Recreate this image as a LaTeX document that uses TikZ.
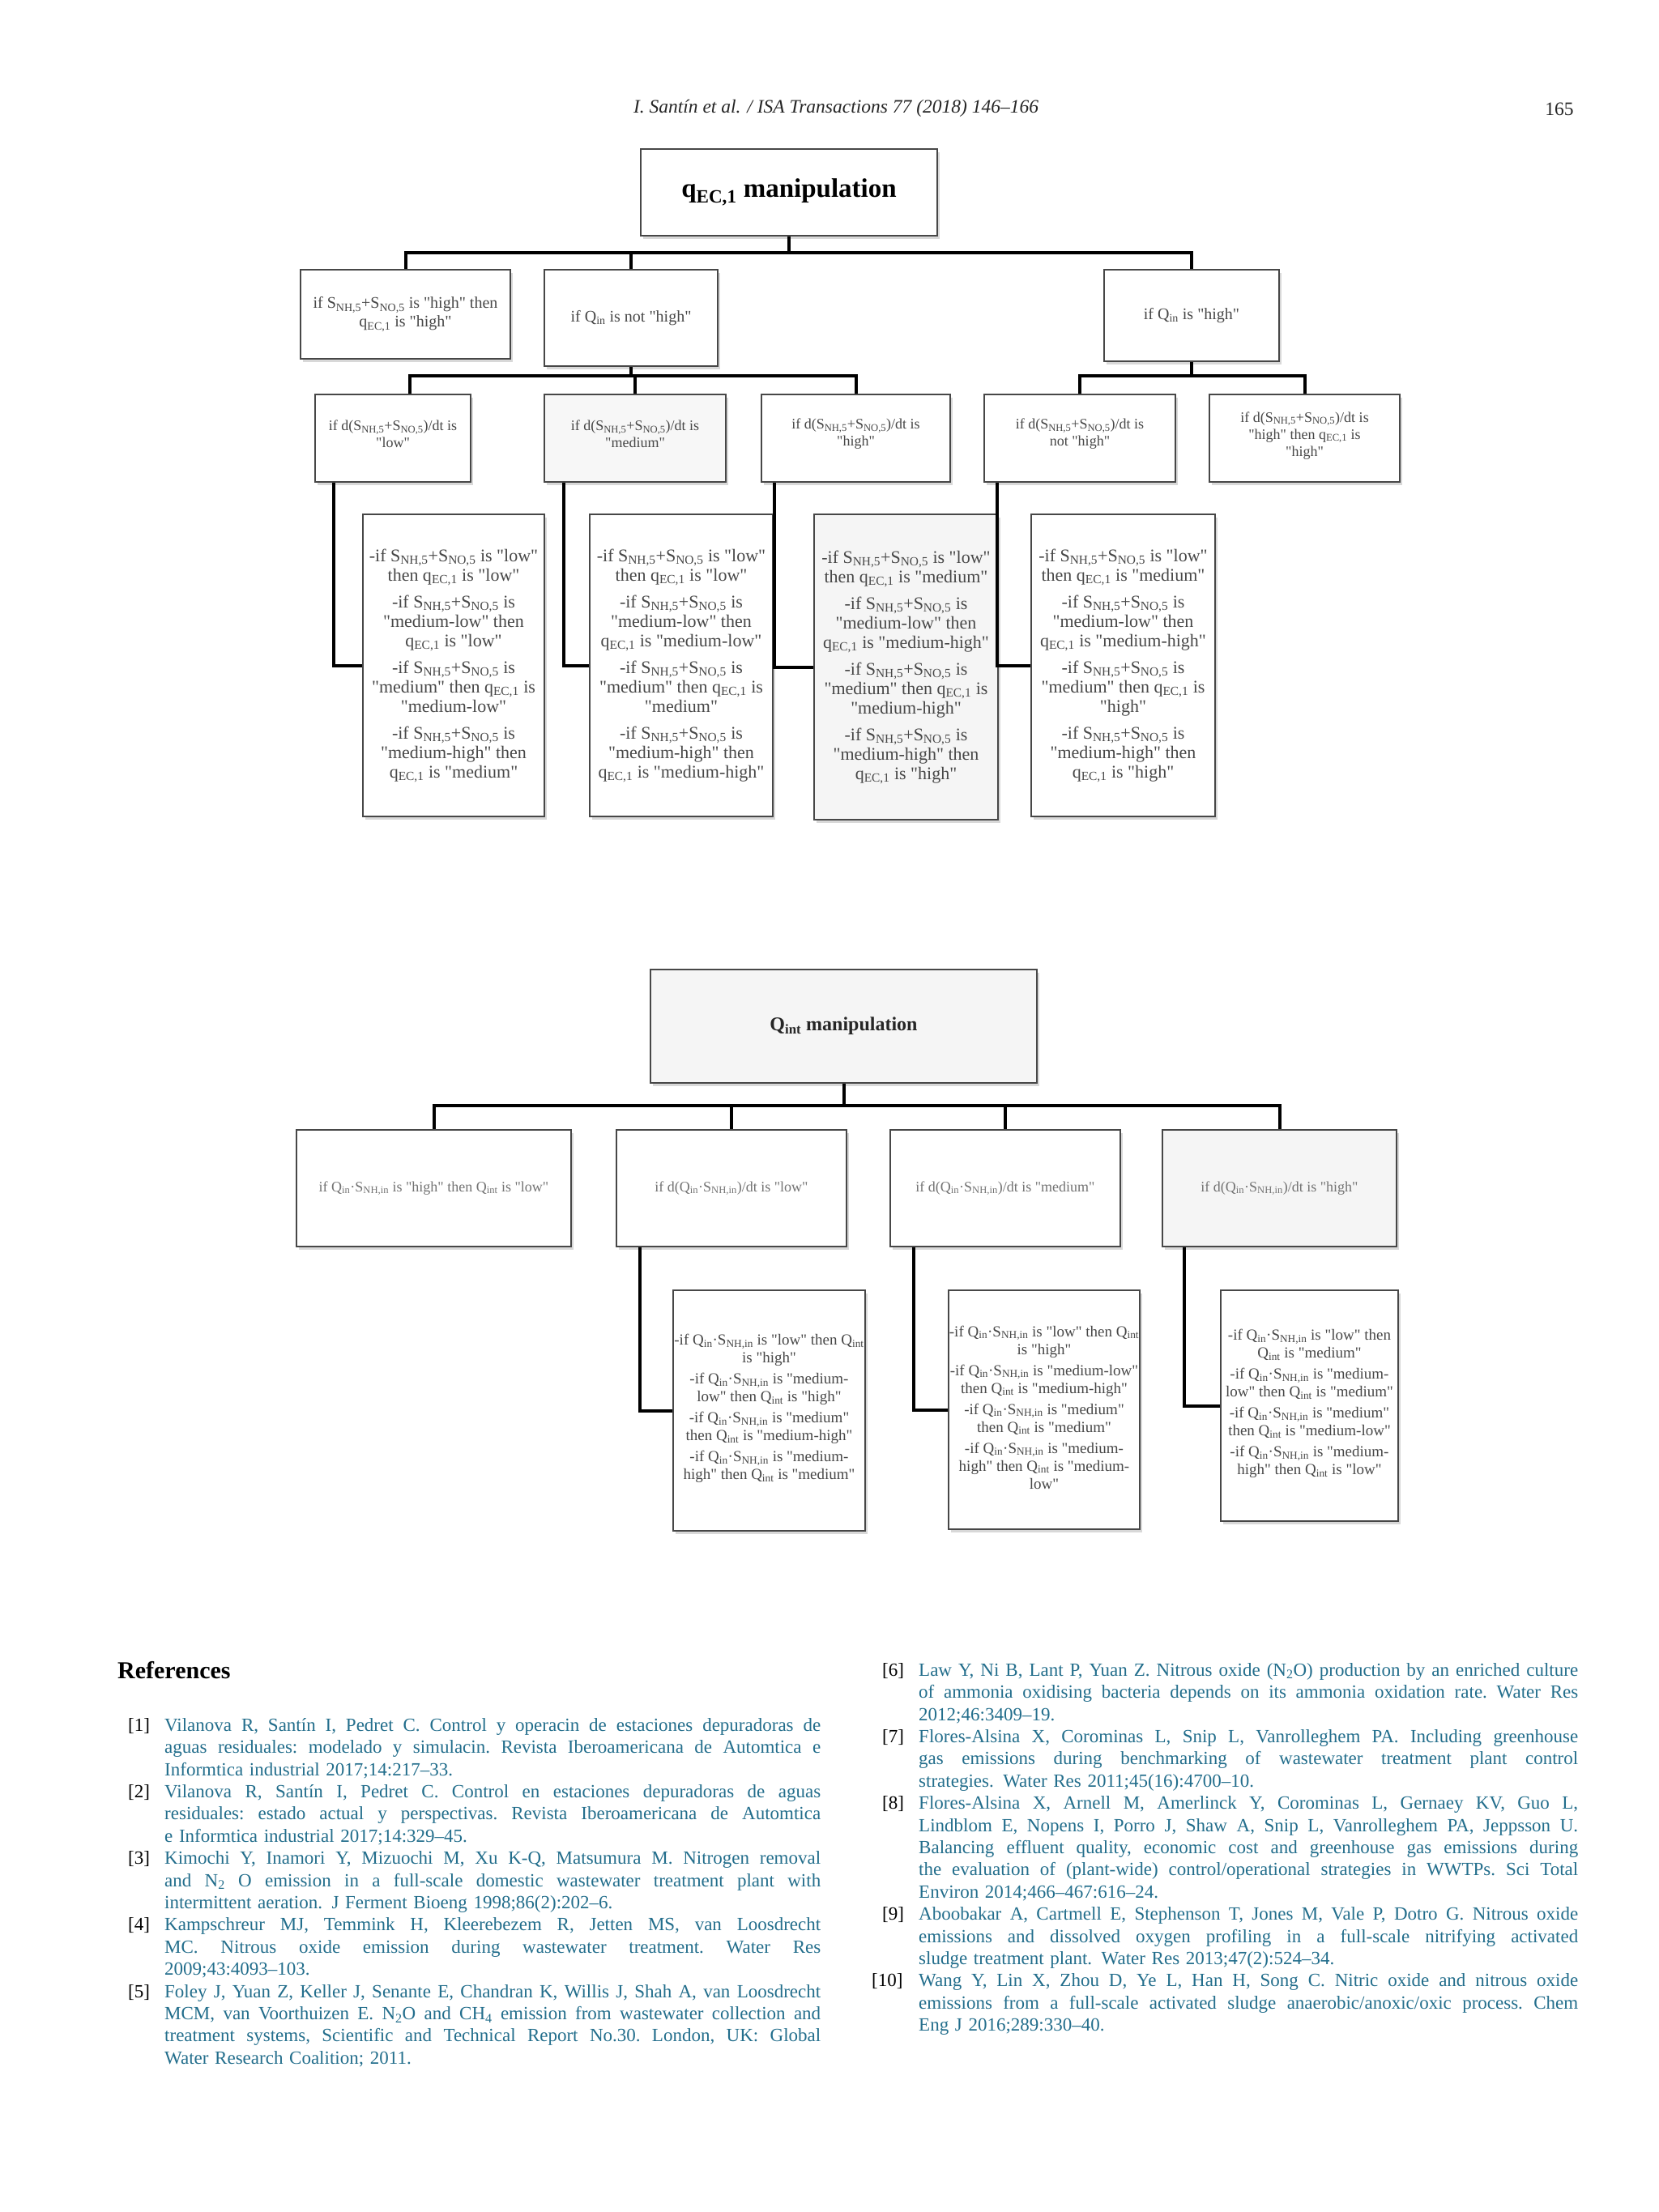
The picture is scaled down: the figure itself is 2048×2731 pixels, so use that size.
\documentclass[tikz,border=0pt]{standalone}
\usepackage{fontspec}
\defaultfontfeatures[\rmfamily]{}
\setmainfont{Liberation Serif}
\usepackage{graphicx}
\usetikzlibrary{calc,shadows}
\definecolor{reftxt}{RGB}{35,110,140}
\newcommand\fs[2]{\fontsize{#1}{#2}\selectfont}
\newcommand\Ssum{S\textsubscript{NH,5}+S\textsubscript{NO,5}}
\newcommand\qec{q\textsubscript{EC,1}}
\newcommand\Qin{Q\textsubscript{in}}
\newcommand\QSin{Q\textsubscript{in}·S\textsubscript{NH,in}}
\newcommand\Qint{Q\textsubscript{int}}
\newlength\colw
\newlength\jlw
\newcommand\JL[1]{\settowidth\jlw{#1}\ifdim\jlw>\colw\pgfmathsetmacro\jlr{\colw/\jlw}\scalebox{\jlr}[1]{#1}\else{\frenchspacing\spaceskip=0.25em plus 1fil\relax\xspaceskip=\spaceskip\makebox[\colw][s]{#1}}\fi}
\newcommand\RL[2]{\noindent\makebox[45pt][l]{\color{black}#1}\JL{#2}\par}
\newcommand\RLw[2]{\noindent\hspace*{-13pt}\makebox[58pt][l]{\color{black}#1}\JL{#2}\par}
\newcommand\CL[1]{\noindent\hspace*{45pt}\JL{#1}\par}
\newcommand\LL[1]{\noindent\hspace*{45pt}#1\par}
\tikzset{
  box/.style={draw=black!72, line width=2.5pt, fill=white, inner sep=0pt,
    drop shadow={shadow xshift=3pt, shadow yshift=-4pt, fill=black!30}},
  txt/.style={inner sep=0pt, align=center, text=black!72},
  conn/.style={draw=black, line width=4pt},
}
\newcommand\BX[7]{\node[box,minimum width=#3pt,minimum height=#4pt,#5] (#1) at #2 {};
  \node[txt,#6] (#1t) at (#1) {#7};}
\begin{document}
\begin{tikzpicture}[x=1pt,y=-1pt]
\useasboundingbox (0,0) rectangle (2048,2731);
\fill[white] (0,0) rectangle (2048,2731);

% header
\node[anchor=base, inner sep=0, font=\itshape\fs{23.5}{26}, text=black!85] (hdr) at (1032,139) {I. Santín et al. / ISA Transactions 77 (2018) 146–166};
\node[anchor=base, inner sep=0, font=\fs{23.5}{26}, text=black!85] (pg) at (1925,142) {165};

% ---------- top diagram ----------
\BX{T1}{(974,237.5)}{366}{107}{}{font=\bfseries\fs{33}{36},text=black}{\qec{} manipulation}
\BX{B1}{(500.5,388)}{259}{110}{}{font=\fs{20}{23}}{if \Ssum{} is "high" then\\ \qec{} is "high"}
\BX{B2}{(779,392.5)}{214}{119}{}{font=\fs{20}{23}}{if \Qin{} is not "high"}
\BX{B3}{(1471,389.5)}{216}{113}{}{font=\fs{20}{23}}{if \Qin{} is "high"}

\BX{L2a}{(485,541)}{192}{108}{}{font=\fs{18}{21},yshift=5pt}{if d(\Ssum)/dt is\\ "low"}
\BX{L2b}{(784,541)}{224}{108}{fill=black!3}{font=\fs{18}{21},yshift=5pt}{if d(\Ssum)/dt is\\ "medium"}
\BX{L2c}{(1056.5,541)}{233}{108}{}{font=\fs{18}{21},yshift=5pt}{if d(\Ssum)/dt is\\ "high"}
\BX{L2d}{(1333,541)}{236}{108}{}{font=\fs{18}{21},yshift=5pt}{if d(\Ssum)/dt is\\ not "high"}
\BX{L2e}{(1610.5,541)}{235}{108}{}{font=\fs{18}{21},yshift=3pt}{if d(\Ssum)/dt is\\ "high" then \qec{} is\\ "high"}

\BX{L3a}{(560,821.5)}{224}{373}{}{font=\fs{22}{24}}{-if \Ssum{} is "low"\\ then \qec{} is "low"\\[9pt]
 -if \Ssum{} is\\ "medium-low" then\\ \qec{} is "low"\\[9pt]
 -if \Ssum{} is\\ "medium" then \qec{} is\\ "medium-low"\\[9pt]
 -if \Ssum{} is\\ "medium-high" then\\ \qec{} is "medium"}
\BX{L3b}{(841,821.5)}{226}{373}{}{font=\fs{22}{24}}{-if \Ssum{} is "low"\\ then \qec{} is "low"\\[9pt]
 -if \Ssum{} is\\ "medium-low" then\\ \qec{} is "medium-low"\\[9pt]
 -if \Ssum{} is\\ "medium" then \qec{} is\\ "medium"\\[9pt]
 -if \Ssum{} is\\ "medium-high" then\\ \qec{} is "medium-high"}
\BX{L3c}{(1118.5,823.5)}{227}{377}{fill=black!4}{font=\fs{22}{24}}{-if \Ssum{} is "low"\\ then \qec{} is "medium"\\[9pt]
 -if \Ssum{} is\\ "medium-low" then\\ \qec{} is "medium-high"\\[9pt]
 -if \Ssum{} is\\ "medium" then \qec{} is\\ "medium-high"\\[9pt]
 -if \Ssum{} is\\ "medium-high" then\\ \qec{} is "high"}
\BX{L3d}{(1386.5,821.5)}{227}{373}{}{font=\fs{22}{24}}{-if \Ssum{} is "low"\\ then \qec{} is "medium"\\[9pt]
 -if \Ssum{} is\\ "medium-low" then\\ \qec{} is "medium-high"\\[9pt]
 -if \Ssum{} is\\ "medium" then \qec{} is\\ "high"\\[9pt]
 -if \Ssum{} is\\ "medium-high" then\\ \qec{} is "high"}

\coordinate (j1) at (974,312);
\draw[conn] (T1.south) -- (j1);
\draw[conn] (B1.north) |- (j1) -| (B3.north);
\draw[conn] (B2.north) -- (B2.north |- j1);
\coordinate (j2) at (779,464);
\draw[conn] (B2.south) -- (j2);
\draw[conn] ($(L2a.north)+(21,0)$) |- (j2) -| (L2c.north);
\draw[conn] (L2b.north) -- (L2b.north |- j2);
\coordinate (j3) at (1471,464);
\draw[conn] (B3.south) -- (j3);
\draw[conn] (L2d.north) |- (j3) -| (L2e.north);
\draw[conn] ($(L2a.south west)+(24,0)$) |- (L3a.west);
\draw[conn] ($(L2b.south west)+(25,0)$) |- (L3b.west);
\draw[conn] ($(L2c.south west)+(17,0)$) |- (L3c.west);
\draw[conn] ($(L2d.south west)+(17,0)$) |- (L3d.west);

% ---------- bottom diagram ----------
\BX{Q}{(1041.5,1267)}{477}{140}{fill=black!4}{font=\bfseries\fs{24}{26},text=black!85}{Q\textsubscript{int} manipulation}
\BX{C1}{(535.5,1467)}{339}{144}{}{font=\fs{18}{21},text=black!55}{if \QSin{} is "high" then \Qint{} is "low"}
\BX{C2}{(903,1467)}{284}{144}{}{font=\fs{18}{21},text=black!55}{if d(\QSin)/dt is "low"}
\BX{C3}{(1241,1467)}{284}{144}{}{font=\fs{18}{21},text=black!55}{if d(\QSin)/dt is "medium"}
\BX{C4}{(1579.5,1467)}{289}{144}{fill=black!4}{font=\fs{18}{21},text=black!55}{if d(\QSin)/dt is "high"}

\BX{D1}{(949.5,1741.5)}{237}{297}{}{font=\fs{19}{22},yshift=3pt}{-if \QSin{} is "low" then \Qint\\ is "high"\\[4pt]
 -if \QSin{} is "medium-\\ low" then \Qint{} is "high"\\[4pt]
 -if \QSin{} is "medium"\\ then \Qint{} is "medium-high"\\[4pt]
 -if \QSin{} is "medium-\\ high" then \Qint{} is "medium"}
\BX{D2}{(1289,1740.5)}{236}{295}{}{font=\fs{19}{22},yshift=3pt}{-if \QSin{} is "low" then \Qint\\ is "high"\\[4pt]
 -if \QSin{} is "medium-low"\\ then \Qint{} is "medium-high"\\[4pt]
 -if \QSin{} is "medium"\\ then \Qint{} is "medium"\\[4pt]
 -if \QSin{} is "medium-\\ high" then \Qint{} is "medium-\\ low"}
\BX{D3}{(1616.5,1735.5)}{219}{285}{}{font=\fs{19}{22},yshift=3pt}{-if \QSin{} is "low" then\\ \Qint{} is "medium"\\[4pt]
 -if \QSin{} is "medium-\\ low" then \Qint{} is "medium"\\[4pt]
 -if \QSin{} is "medium"\\ then \Qint{} is "medium-low"\\[4pt]
 -if \QSin{} is "medium-\\ high" then \Qint{} is "low"}

\coordinate (k1) at (1041.5,1365);
\draw[conn] (Q.south) -- (k1);
\draw[conn] (C1.north) |- (k1) -| (C4.north);
\draw[conn] (C2.north) -- (C2.north |- k1);
\draw[conn] (C3.north) -- (C3.north |- k1);
\draw[conn] ($(C2.south west)+(30,0)$) |- (D1.west);
\draw[conn] ($(C3.south west)+(30,0)$) |- (D2.west);
\draw[conn] ($(C4.south west)+(28,0)$) |- (D3.west);

% ---------- references ----------
\node[anchor=base west, inner sep=0, font=\bfseries\fs{30}{32}] (refT) at (145,2072) {References};

\node[anchor=north west, inner sep=0, text width=856pt, font=\fs{23}{27.4}, text=reftxt] (refL) at (158,2114) {%
\setlength\colw{810pt}\setlength\parindent{0pt}\setlength\parskip{0pt}%
\noindent\rule{0pt}{23pt}%
\RL{[1]}{Vilanova R, Santín I, Pedret C. Control y operacin de estaciones depuradoras de}
\CL{aguas residuales: modelado y simulacin. Revista Iberoamericana de Automtica e}
\LL{Informtica industrial 2017;14:217–33.}
\RL{[2]}{Vilanova R, Santín I, Pedret C. Control en estaciones depuradoras de aguas}
\CL{residuales: estado actual y perspectivas. Revista Iberoamericana de Automtica}
\LL{e Informtica industrial 2017;14:329–45.}
\RL{[3]}{Kimochi Y, Inamori Y, Mizuochi M, Xu K-Q, Matsumura M. Nitrogen removal}
\CL{and N\textsubscript{2} O emission in a full-scale domestic wastewater treatment plant with}
\LL{intermittent aeration. J Ferment Bioeng 1998;86(2):202–6.}
\RL{[4]}{Kampschreur MJ, Temmink H, Kleerebezem R, Jetten MS, van Loosdrecht}
\CL{MC. Nitrous oxide emission during wastewater treatment. Water Res}
\LL{2009;43:4093–103.}
\RL{[5]}{Foley J, Yuan Z, Keller J, Senante E, Chandran K, Willis J, Shah A, van Loosdrecht}
\CL{MCM, van Voorthuizen E. N\textsubscript{2}O and CH\textsubscript{4} emission from wastewater collection and}
\CL{treatment systems, Scientific and Technical Report No.30. London, UK: Global}
\LL{Water Research Coalition; 2011.}
};

\node[anchor=north west, inner sep=0, text width=860pt, font=\fs{23}{27.4}, text=reftxt] (refR) at (1089,2046) {%
\setlength\colw{814pt}\setlength\parindent{0pt}\setlength\parskip{0pt}%
\noindent\rule{0pt}{23pt}%
\RL{[6]}{Law Y, Ni B, Lant P, Yuan Z. Nitrous oxide (N\textsubscript{2}O) production by an enriched culture}
\CL{of ammonia oxidising bacteria depends on its ammonia oxidation rate. Water Res}
\LL{2012;46:3409–19.}
\RL{[7]}{Flores-Alsina X, Corominas L, Snip L, Vanrolleghem PA. Including greenhouse}
\CL{gas emissions during benchmarking of wastewater treatment plant control}
\LL{strategies. Water Res 2011;45(16):4700–10.}
\RL{[8]}{Flores-Alsina X, Arnell M, Amerlinck Y, Corominas L, Gernaey KV, Guo L,}
\CL{Lindblom E, Nopens I, Porro J, Shaw A, Snip L, Vanrolleghem PA, Jeppsson U.}
\CL{Balancing effluent quality, economic cost and greenhouse gas emissions during}
\CL{the evaluation of (plant-wide) control/operational strategies in WWTPs. Sci Total}
\LL{Environ 2014;466–467:616–24.}
\RL{[9]}{Aboobakar A, Cartmell E, Stephenson T, Jones M, Vale P, Dotro G. Nitrous oxide}
\CL{emissions and dissolved oxygen profiling in a full-scale nitrifying activated}
\LL{sludge treatment plant. Water Res 2013;47(2):524–34.}
\RLw{[10]}{Wang Y, Lin X, Zhou D, Ye L, Han H, Song C. Nitric oxide and nitrous oxide}
\CL{emissions from a full-scale activated sludge anaerobic/anoxic/oxic process. Chem}
\LL{Eng J 2016;289:330–40.}
};
\end{tikzpicture}
\end{document}
